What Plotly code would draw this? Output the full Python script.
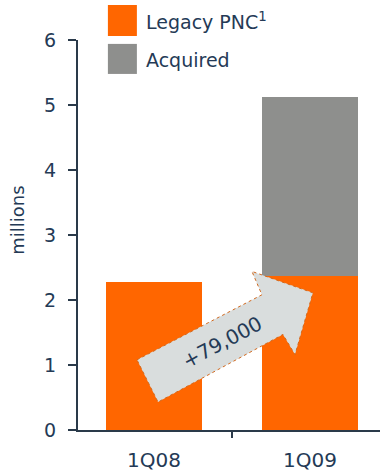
import plotly.graph_objects as go

categories = ["1Q08", "1Q09"]
legacy_pnc = [2.28, 2.37]
acquired = [0.0, 2.75]
series_names = ["Legacy PNC<sup>1</sup>", "Acquired"]
y_ticks = [0, 1, 2, 3, 4, 5, 6]
y_title = "millions"
arrow_label = "+79,000"

ORANGE = "#ff6600"
GRAY = "#8e8f8d"
NAVY = "#243a56"
AXIS = "#2a3a4a"
FONT = "DejaVu Sans"

xs = list(range(len(categories)))

fig = go.Figure()
fig.add_trace(go.Bar(x=xs, y=legacy_pnc, name=series_names[0], marker=dict(color=ORANGE, line=dict(width=0)), width=0.615))
fig.add_trace(go.Bar(x=xs, y=acquired, name=series_names[1], marker=dict(color=GRAY, line=dict(width=0)), width=0.615))

# arrow shape (data coordinates)
pts = [(-0.109, 1.08), (0.692, 2.08), (0.628, 2.44), (1.019, 2.11), (0.904, 1.16), (0.827, 1.47), (0.026, 0.43)]
path = "M " + " L ".join(f"{x},{y}" for x, y in pts) + " Z"
fig.add_shape(type="path", path=path, xref="x", yref="y", fillcolor="#d9dddd",
              line=dict(color="#d2691e", width=1, dash="dot"), layer="above")

fig.add_annotation(x=0.44, y=1.35, xref="x", yref="y", text=arrow_label, showarrow=False,
                   textangle=-28, font=dict(family=FONT, size=20, color=NAVY))

# custom legend
legend_items = [(series_names[0], ORANGE, 1.090, 1.010, 1.049), (series_names[1], GRAY, 0.990, 0.913, 0.949)]
for name, col, y1, y0, yc in legend_items:
    fig.add_shape(type="rect", xref="paper", yref="paper", x0=0.099, x1=0.195, y0=y0, y1=y1,
                  fillcolor=col, line=dict(width=0))
    fig.add_annotation(xref="paper", yref="paper", x=0.220, y=yc, xanchor="left", yanchor="middle",
                       text=name, showarrow=False, font=dict(family=FONT, size=19, color=NAVY))

# y-axis title
fig.add_annotation(xref="paper", yref="paper", x=-0.20, y=0.538, xanchor="center", yanchor="middle",
                   text=y_title, textangle=-90, showarrow=False, font=dict(family=FONT, size=18, color=NAVY))

fig.update_layout(
    width=380, height=476, barmode="stack", showlegend=False,
    margin=dict(l=78, r=0, t=40, b=46),
    plot_bgcolor="white", paper_bgcolor="white",
    font=dict(family=FONT, color=NAVY),
    bargap=0,
)
fig.update_xaxes(range=[-0.487, 1.449], tickvals=xs, ticktext=categories, ticks="",
                 showline=True, linecolor=AXIS, linewidth=2, showgrid=False, zeroline=False,
                 tickfont=dict(family=FONT, size=20, color=NAVY), ticklabelstandoff=11,
                 minor=dict(tickmode="array", tickvals=[0.5], ticks="outside", ticklen=6, tickcolor=AXIS, tickwidth=2))
fig.update_yaxes(range=[0, 6], tickvals=y_ticks, ticks="outside", ticklen=8, tickcolor=AXIS, tickwidth=2,
                 showline=True, linecolor=AXIS, linewidth=2, showgrid=False, zeroline=False,
                 tickfont=dict(family=FONT, size=19, color=NAVY), ticklabelstandoff=8)

fig.write_html("out.html")
